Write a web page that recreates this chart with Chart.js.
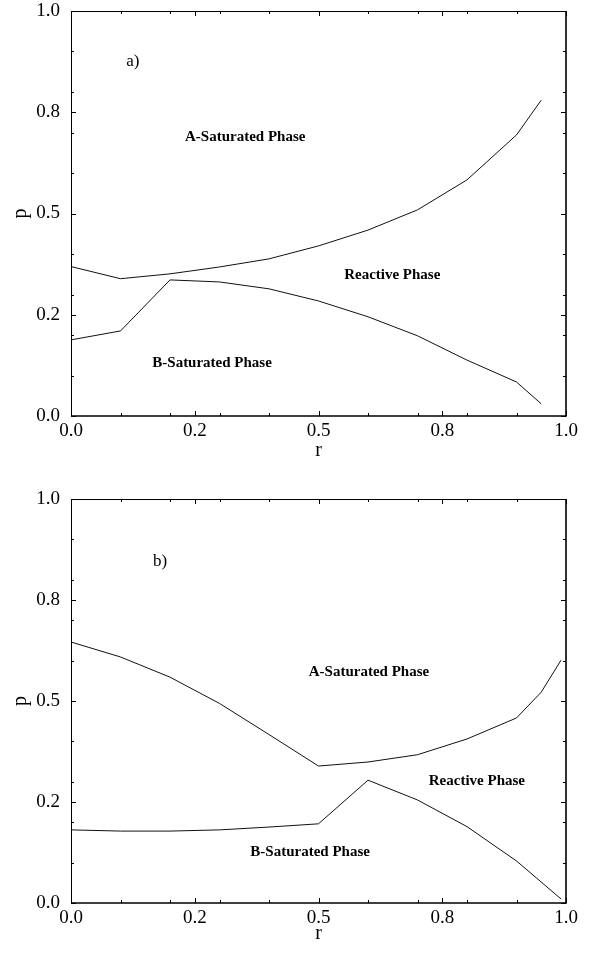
<!DOCTYPE html>
<html>
<head>
<meta charset="utf-8">
<script src="https://cdn.jsdelivr.net/npm/chart.js@4"></script>
<style>
  html, body { margin: 0; padding: 0; background: #fff; }
  body { width: 590px; height: 954px; position: relative; overflow: hidden; }
  canvas { position: absolute; left: 0; }
  #c1 { top: 0; }
  #c2 { top: 477px; }
</style>
</head>
<body>
<canvas id="c1" width="590" height="477"></canvas>
<canvas id="c2" width="590" height="477"></canvas>
<script>
// ---- data ----
const majorTicks = [0, 0.25, 0.5, 0.75, 1.0];
const tickLabels = ['0.0', '0.2', '0.5', '0.8', '1.0'];
const minorTicks = [0.1, 0.2, 0.3, 0.4, 0.6, 0.7, 0.8, 0.9];

// panel a)
const rA = [0, 0.1, 0.2, 0.3, 0.4, 0.5, 0.6, 0.7, 0.8, 0.9, 0.95];
const aUpper = [0.369, 0.339, 0.351, 0.368, 0.388, 0.420, 0.459, 0.509, 0.583, 0.694, 0.780];
const aLower = [0.188, 0.210, 0.336, 0.331, 0.314, 0.284, 0.245, 0.198, 0.138, 0.084, 0.030];

// panel b)
const rBUpper = [0, 0.1, 0.2, 0.3, 0.4, 0.5, 0.6, 0.7, 0.8, 0.9, 0.95, 0.99];
const bUpper = [0.646, 0.609, 0.559, 0.494, 0.417, 0.339, 0.349, 0.367, 0.406, 0.458, 0.522, 0.601];
const rBLower = [0, 0.1, 0.2, 0.3, 0.4, 0.5, 0.6, 0.7, 0.8, 0.9, 0.99];
const bLower = [0.181, 0.178, 0.178, 0.181, 0.188, 0.196, 0.304, 0.255, 0.189, 0.104, 0.010];

// annotation texts with their positions in data units
const notesA = [
  { text: 'a)', r: 0.125, p: 0.874, bold: false },
  { text: 'A-Saturated Phase', r: 0.352, p: 0.689, bold: true },
  { text: 'Reactive Phase', r: 0.649, p: 0.348, bold: true },
  { text: 'B-Saturated Phase', r: 0.285, p: 0.131, bold: true }
];
const notesB = [
  { text: 'b)', r: 0.18, p: 0.844, bold: false },
  { text: 'A-Saturated Phase', r: 0.602, p: 0.572, bold: true },
  { text: 'Reactive Phase', r: 0.82, p: 0.302, bold: true },
  { text: 'B-Saturated Phase', r: 0.483, p: 0.126, bold: true }
];

const SERIF = '"Liberation Serif", "DejaVu Serif", serif';

function pts(xs, ys) { return xs.map((x, i) => ({ x: x, y: ys[i] })); }

const framePlugin = {
  id: 'frame',
  afterDatasetsDraw(chart) {
    const { ctx, chartArea: { left, right, top, bottom }, scales: { x, y } } = chart;
    ctx.save();
    ctx.strokeStyle = '#000';
    // ticks
    ctx.lineWidth = 1;
    ctx.beginPath();
    const tickX = (v, len) => {
      const px = Math.round(x.getPixelForValue(v)) + 0.5;
      ctx.moveTo(px, bottom); ctx.lineTo(px, bottom - len);
      ctx.moveTo(px, top); ctx.lineTo(px, top + len);
    };
    const tickY = (v, len) => {
      const py = Math.round(y.getPixelForValue(v)) + 0.5;
      ctx.moveTo(left, py); ctx.lineTo(left + len, py);
      ctx.moveTo(right, py); ctx.lineTo(right - len, py);
    };
    minorTicks.forEach(v => { tickX(v, 3); tickY(v, 3); });
    majorTicks.forEach(v => { tickX(v, 5); tickY(v, 5); });
    ctx.stroke();
    // frame
    ctx.lineWidth = 1;
    ctx.beginPath();
    ctx.moveTo(Math.round(left) + 0.5, Math.round(bottom));
    ctx.lineTo(Math.round(left) + 0.5, Math.round(top) + 0.5);
    ctx.lineTo(Math.round(right), Math.round(top) + 0.5);
    ctx.stroke();
    ctx.lineWidth = 1.6;
    ctx.beginPath();
    ctx.moveTo(Math.round(left), Math.round(bottom));
    ctx.lineTo(Math.round(right), Math.round(bottom));
    ctx.lineTo(Math.round(right), Math.round(top));
    ctx.stroke();
    // annotations
    const notes = chart.options.plugins.frame.notes;
    ctx.fillStyle = '#000';
    ctx.textAlign = 'center';
    ctx.textBaseline = 'middle';
    notes.forEach(n => {
      ctx.font = n.bold ? 'bold 15px ' + SERIF : '17px ' + SERIF;
      ctx.fillText(n.text, x.getPixelForValue(n.r), y.getPixelForValue(n.p));
    });
    ctx.restore();
  }
};

function makeChart(id, upper, lower, notes, padTop, xAxisH, titlePadBottom) {
  return new Chart(document.getElementById(id), {
    type: 'line',
    data: {
      datasets: [
        { data: upper, borderColor: '#111', borderWidth: 1, pointRadius: 0, tension: 0, fill: false },
        { data: lower, borderColor: '#111', borderWidth: 1, pointRadius: 0, tension: 0, fill: false }
      ]
    },
    options: {
      responsive: false,
      animation: false,
      layout: { padding: { left: 0, right: 24, top: padTop, bottom: 0 } },
      plugins: {
        legend: { display: false },
        tooltip: { enabled: false },
        frame: { notes: notes }
      },
      scales: {
        x: {
          type: 'linear', min: 0, max: 1,
          afterBuildTicks: s => { s.ticks = majorTicks.map(v => ({ value: v })); },
          afterFit: s => { s.height = xAxisH; s.paddingLeft = 0; s.paddingRight = 0; },
          grid: { display: false, drawTicks: false },
          border: { display: false },
          ticks: {
            padding: 4, color: '#000', maxRotation: 0, autoSkip: false,
            font: { family: SERIF, size: 19 },
            callback: (v) => tickLabels[majorTicks.indexOf(v)]
          },
          title: {
            display: true, text: 'r', color: '#000',
            font: { family: SERIF, size: 20 },
            padding: { top: 0, bottom: titlePadBottom }
          }
        },
        y: {
          type: 'linear', min: 0, max: 1,
          afterBuildTicks: s => { s.ticks = majorTicks.map(v => ({ value: v })); },
          afterFit: s => { s.width = 71; s.paddingTop = 0; s.paddingBottom = 0; },
          grid: { display: false, drawTicks: false },
          border: { display: false },
          ticks: {
            padding: 11, color: '#000', autoSkip: false,
            font: { family: SERIF, size: 19 },
            callback: (v) => tickLabels[majorTicks.indexOf(v)]
          },
          title: {
            display: true, text: 'p', color: '#000',
            font: { family: SERIF, size: 20 },
            padding: { top: 9, bottom: 0 }
          }
        }
      }
    },
    plugins: [framePlugin]
  });
}

makeChart('c1', pts(rA, aUpper), pts(rA, aLower), notesA, 11, 61, 14);
makeChart('c2', pts(rBUpper, bUpper), pts(rBLower, bLower), notesB, 22, 51, 8);
</script>
</body>
</html>
